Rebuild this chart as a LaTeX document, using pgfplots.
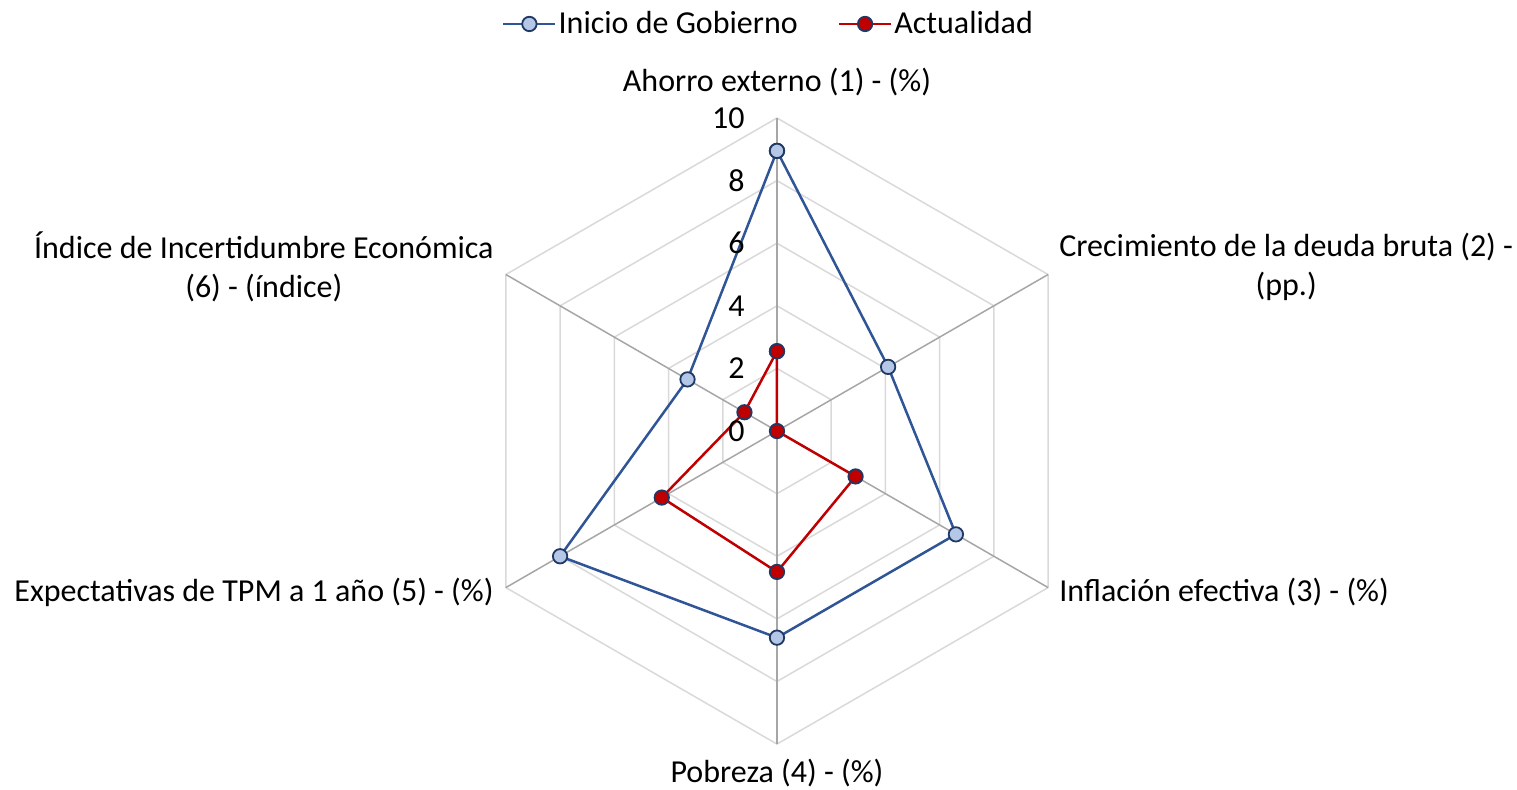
\documentclass[border=0pt]{standalone}
\usepackage{pgfplots}
\pgfplotsset{compat=1.18}
\usepackage{fontspec}
\setmainfont{Carlito}
\definecolor{lineblue}{HTML}{2F5597}
\definecolor{fillblue}{HTML}{B4C7E7}
\definecolor{edgenavy}{HTML}{203864}
\definecolor{linered}{HTML}{C00000}
\definecolor{spoke}{HTML}{A6A6A6}
\definecolor{ring}{HTML}{D9D9D9}
\begin{document}
\begin{tikzpicture}
\begin{axis}[
  x=15.65pt, y=15.65pt,
  xmin=-24.82, xmax=23.64, ymin=-11.44, ymax=13.77,
  hide axis, clip=false,
  legend style={at={(0.5066,0.9696)}, anchor=center, draw=none, fill=none,
    legend columns=2, font=\fontsize{16}{19.5}\selectfont,
    nodes={inner sep=1pt},
    /tikz/every even column/.append style={column sep=19pt},
    legend cell align=left},
  legend image code/.code={
    \draw[mark repeat=2,mark phase=2] plot coordinates {(0pt,0pt) (13pt,0pt) (26pt,0pt)};},
]
% rings
\foreach \r in {2,4,6,8,10}{
  \edef\tmp{\noexpand\addplot[ring, line width=0.75pt, data cs=polar, forget plot] coordinates {(90,\r) (30,\r) (-30,\r) (-90,\r) (-150,\r) (150,\r) (90,\r)};}
  \tmp
}
% spokes
\addplot[spoke, line width=0.75pt, data cs=polar, forget plot] coordinates {(90,0) (90,10)};
\addplot[spoke, line width=0.75pt, data cs=polar, forget plot] coordinates {(30,0) (30,10)};
\addplot[spoke, line width=0.75pt, data cs=polar, forget plot] coordinates {(-30,0) (-30,10)};
\addplot[spoke, line width=0.75pt, data cs=polar, forget plot] coordinates {(-90,0) (-90,10)};
\addplot[spoke, line width=0.75pt, data cs=polar, forget plot] coordinates {(-150,0) (-150,10)};
\addplot[spoke, line width=0.75pt, data cs=polar, forget plot] coordinates {(150,0) (150,10)};
% series
\addplot[lineblue, line width=1.25pt, data cs=polar, mark=*, mark size=3.6pt,
  mark options={fill=fillblue, draw=edgenavy, line width=0.9pt}]
  coordinates {(90,8.95) (30,4.1) (-30,6.6) (-90,6.6) (-150,8.0) (150,3.3) (90,8.95)};
\addlegendentry{Inicio de Gobierno}
\addplot[linered, line width=1.25pt, data cs=polar, mark=*, mark size=3.6pt,
  mark options={fill=linered, draw=edgenavy, line width=0.9pt}]
  coordinates {(90,2.55) (30,0) (-30,2.9) (-90,4.5) (-150,4.25) (150,1.2) (90,2.55)};
\addlegendentry{Actualidad}
% tick labels
\foreach \v in {0,2,4,6,8,10}{
  \edef\tmp{\noexpand\node[anchor=east, inner sep=0pt, font=\noexpand\fontsize{16}{19.5}\noexpand\selectfont] at (axis cs:-1.02,\v) {\v};}
  \tmp
}
% category labels
\node[anchor=center, align=center, inner sep=0pt, font=\fontsize{16}{19.5}\selectfont] at (axis cs:0,11.15) {Ahorro externo (1) - (\%)};
\node[anchor=west, align=center, inner sep=0pt, font=\fontsize{16}{19.5}\selectfont] at (axis cs:9.01,5.24) {Crecimiento de la deuda bruta (2) -\\(pp.)};
\node[anchor=west, align=center, inner sep=0pt, font=\fontsize{16}{19.5}\selectfont] at (axis cs:9.01,-5.14) {Inflación efectiva (3) - (\%)};
\node[anchor=center, align=center, inner sep=0pt, font=\fontsize{16}{19.5}\selectfont] at (axis cs:0,-10.92) {Pobreza (4) - (\%)};
\node[anchor=east, align=center, inner sep=0pt, font=\fontsize{16}{19.5}\selectfont] at (axis cs:-9.04,-5.14) {Expectativas de TPM a 1 año (5) - (\%)};
\node[anchor=east, align=center, inner sep=0pt, font=\fontsize{16}{19.5}\selectfont] at (axis cs:-9.04,5.24) {Índice de Incertidumbre Económica\\(6) - (índice)};
\path (axis cs:-24.82,-11.44) rectangle (axis cs:23.64,13.77);
\end{axis}
\end{tikzpicture}
\end{document}
